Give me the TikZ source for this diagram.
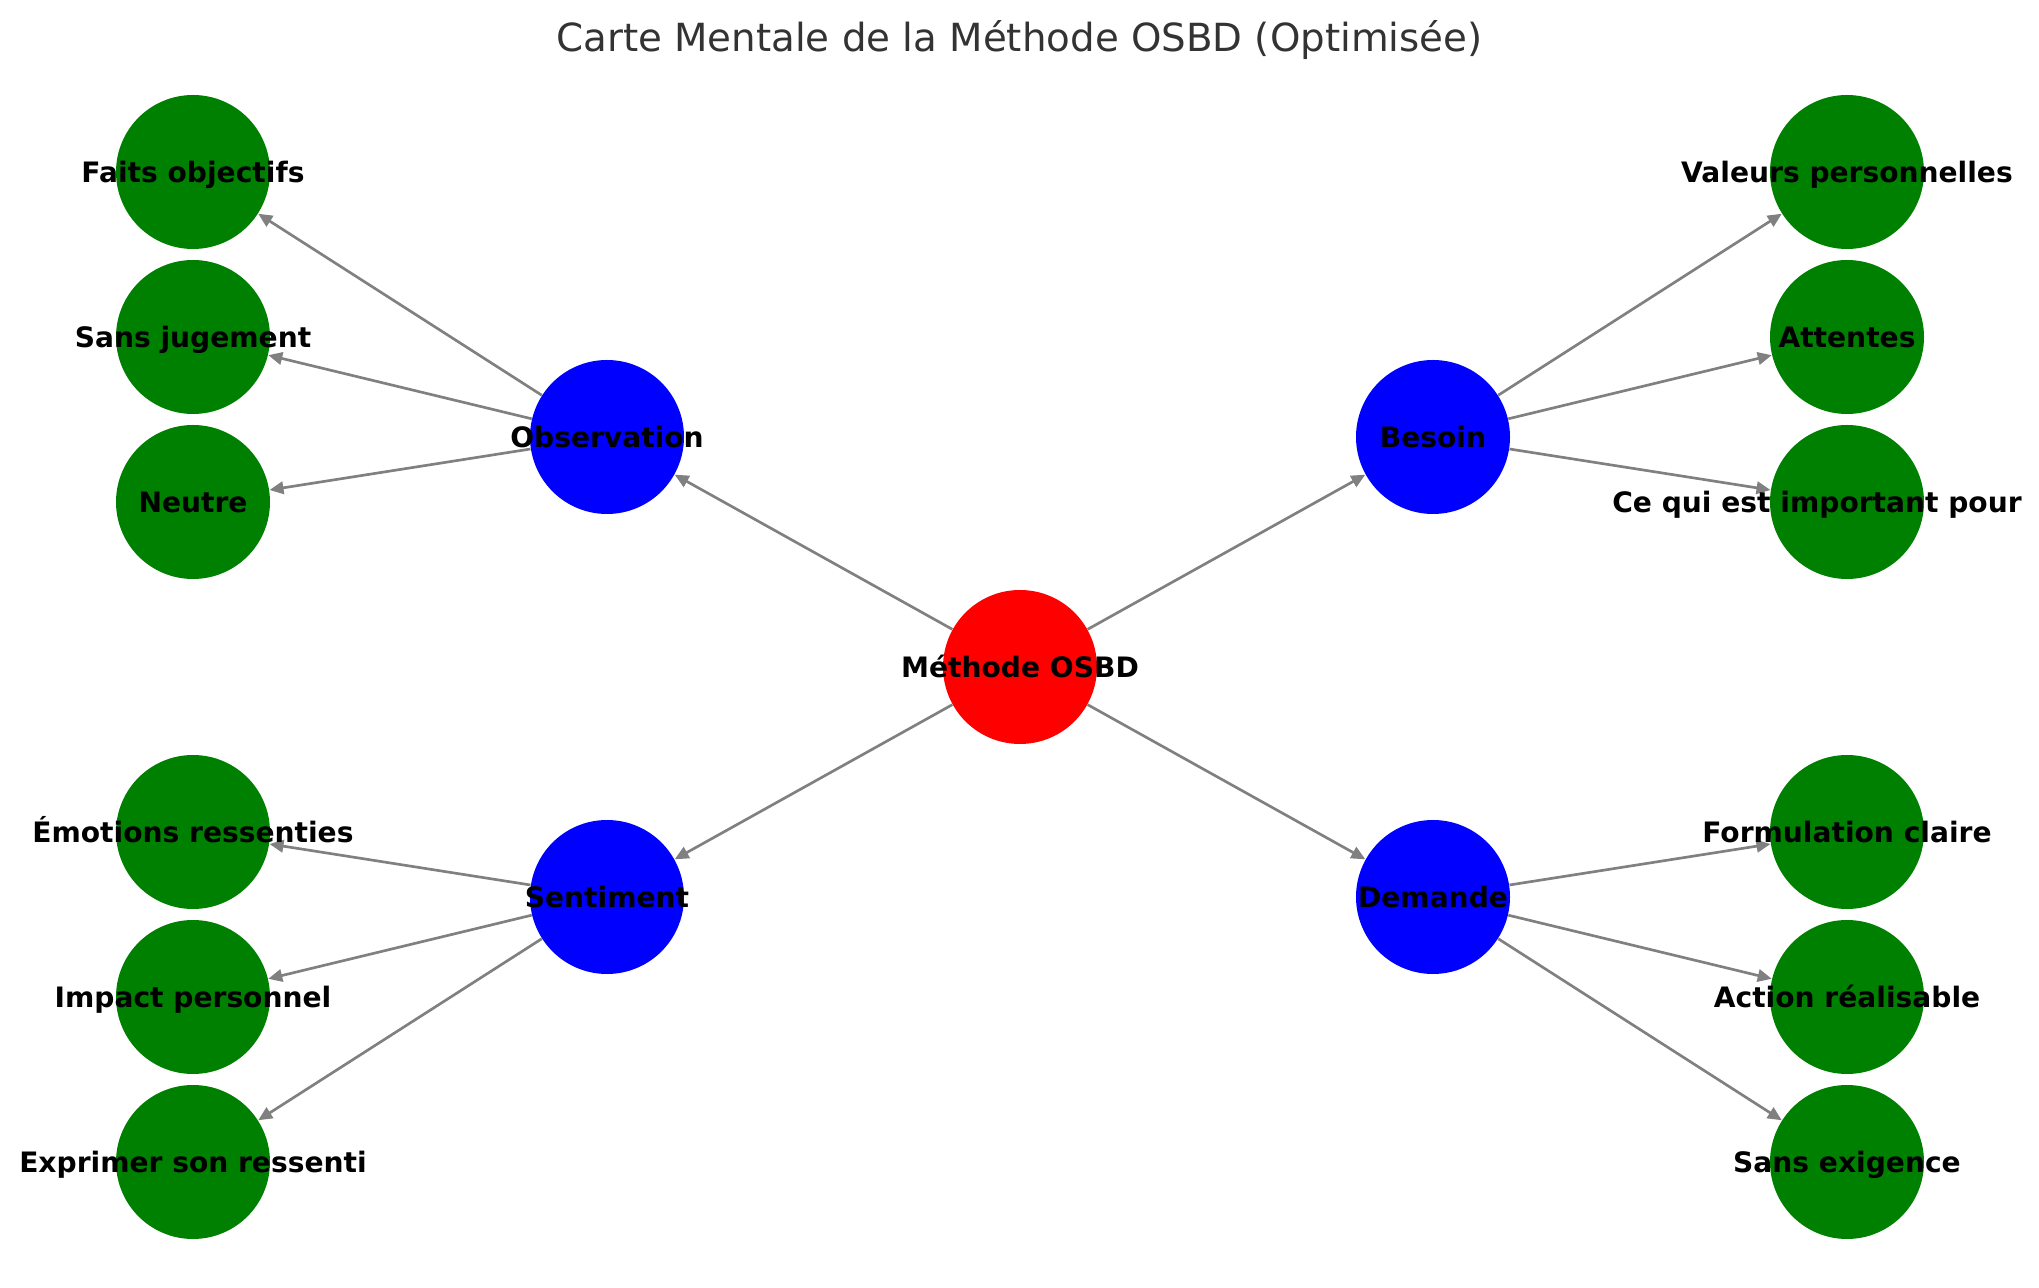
\documentclass[tikz,border=0pt]{standalone}
\usepackage{fontspec}
\setmainfont{DejaVu Sans}
\usetikzlibrary{arrows.meta}
\definecolor{edgegray}{RGB}{128,128,128}
\definecolor{titlegray}{RGB}{51,51,51}
\definecolor{leafgreen}{RGB}{0,128,0}

\begin{document}
\begin{tikzpicture}[x=0.45bp, y=-0.45bp,
    hub/.style={circle, inner sep=0pt, minimum size=69.3bp},
    lbl/.style={inner sep=0pt, text height=9.5bp, text depth=0pt,
      font=\fontsize{12.7}{15}\selectfont\bfseries},
    link/.style={-{Triangle[length=6.3bp, width=5.6bp]}, edgegray, line width=1.2bp}]
    \useasboundingbox (0,0) rectangle (2039,1288);

    \node[anchor=base, text=titlegray, font=\fontsize{17.5}{21}\selectfont] (title) at (1019.5,52)
      {Carte Mentale de la Méthode OSBD (Optimisée)};

    % Centre
    \node[hub, fill=red] (osbd) at (1020,667) {};

    % Etapes
    \node[hub, fill=blue] (obs) at (607,437) {};
    \node[hub, fill=blue] (bes) at (1433,437) {};
    \node[hub, fill=blue] (sen) at (607,897) {};
    \node[hub, fill=blue] (dem) at (1433,897) {};

    % Observation
    \node[hub, fill=leafgreen] (obs1) at (193,172) {};
    \node[hub, fill=leafgreen] (obs2) at (193,337) {};
    \node[hub, fill=leafgreen] (obs3) at (193,502) {};

    % Besoin
    \node[hub, fill=leafgreen] (bes1) at (1847,172) {};
    \node[hub, fill=leafgreen] (bes2) at (1847,337) {};
    \node[hub, fill=leafgreen] (bes3) at (1847,502) {};

    % Sentiment
    \node[hub, fill=leafgreen] (sen1) at (193,832) {};
    \node[hub, fill=leafgreen] (sen2) at (193,997) {};
    \node[hub, fill=leafgreen] (sen3) at (193,1162) {};

    % Demande
    \node[hub, fill=leafgreen] (dem1) at (1847,832) {};
    \node[hub, fill=leafgreen] (dem2) at (1847,997) {};
    \node[hub, fill=leafgreen] (dem3) at (1847,1162) {};

    \draw[link] (osbd) -- (obs);
    \draw[link] (osbd) -- (bes);
    \draw[link] (osbd) -- (sen);
    \draw[link] (osbd) -- (dem);

    \draw[link] (obs) -- (obs1);
    \draw[link] (obs) -- (obs2);
    \draw[link] (obs) -- (obs3);
    \draw[link] (bes) -- (bes1);
    \draw[link] (bes) -- (bes2);
    \draw[link] (bes) -- (bes3);
    \draw[link] (sen) -- (sen1);
    \draw[link] (sen) -- (sen2);
    \draw[link] (sen) -- (sen3);
    \draw[link] (dem) -- (dem1);
    \draw[link] (dem) -- (dem2);
    \draw[link] (dem) -- (dem3);

    % Textes
    \node[lbl] at (osbd) {Méthode OSBD};
    \node[lbl] at (obs) {Observation};
    \node[lbl] at (bes) {Besoin};
    \node[lbl] at (sen) {Sentiment};
    \node[lbl] at (dem) {Demande};
    \node[lbl] at (obs1) {Faits objectifs};
    \node[lbl] at (obs2) {Sans jugement};
    \node[lbl] at (obs3) {Neutre};
    \node[lbl] at (bes1) {Valeurs personnelles};
    \node[lbl] at (bes2) {Attentes};
    \node[lbl] at ([xshift=-13.5bp]bes3) {Ce qui est important pour};
    \node[lbl] at (sen1) {Émotions ressenties};
    \node[lbl] at (sen2) {Impact personnel};
    \node[lbl] at (sen3) {Exprimer son ressenti};
    \node[lbl] at (dem1) {Formulation claire};
    \node[lbl] at (dem2) {Action réalisable};
    \node[lbl] at (dem3) {Sans exigence};
\end{tikzpicture}
\end{document}
